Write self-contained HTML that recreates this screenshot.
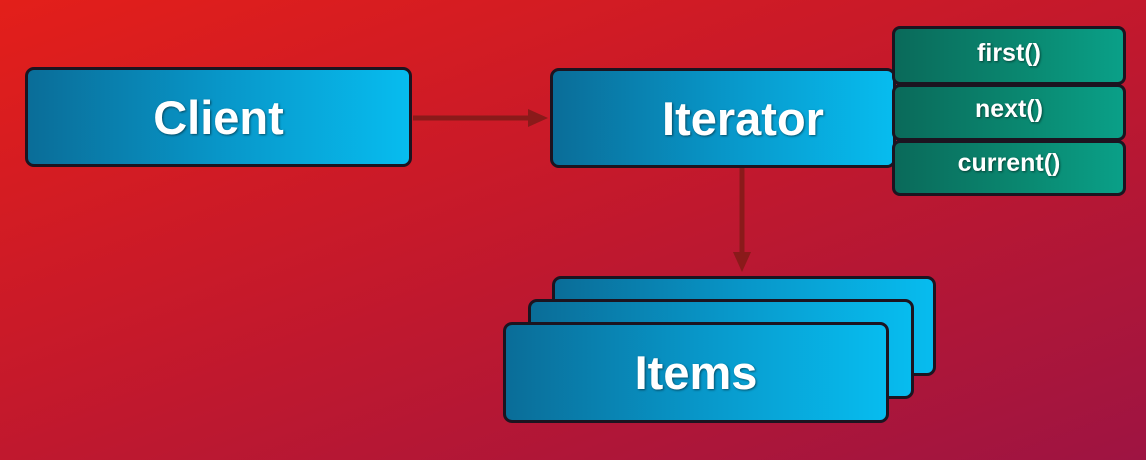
<!DOCTYPE html>
<html><head><style>
body{margin:0;width:1146px;height:460px;overflow:hidden;background:linear-gradient(160deg,#e31f1a 0%,#c5192b 45%,#9e1442 100%);font-family:"Liberation Sans",sans-serif;position:relative}
.b{position:absolute;box-sizing:border-box;border:3px solid #1c1420;border-radius:9px;background:linear-gradient(90deg,#0a6d98 0%,#0896c8 50%,#07bcef 100%);color:#fff;font-weight:bold;font-size:47px;display:flex;align-items:center;justify-content:center;text-shadow:1px 1px 2px rgba(0,0,0,.5)}
.g{position:absolute;box-sizing:border-box;border:3px solid #1c1420;border-radius:8px;background:linear-gradient(90deg,#0a6a5a 0%,#0a8a72 60%,#0aa088 100%);color:#fff;font-weight:bold;font-size:25px;display:flex;align-items:flex-start;justify-content:center;padding-top:10px;text-shadow:1px 1px 2px rgba(0,0,0,.5)}
</style></head><body>
<svg width="1146" height="460" style="position:absolute;left:0;top:0">
<line x1="413" y1="118" x2="535" y2="118" stroke="#8a1a1a" stroke-width="5"/>
<polygon points="548,118 528,109 528,127" fill="#8a1a1a"/>
<line x1="742" y1="168" x2="742" y2="258" stroke="#8a1a1a" stroke-width="5"/>
<polygon points="742,272 733,252 751,252" fill="#8a1a1a"/>
</svg>
<div class="b" style="left:25px;top:67px;width:387px;height:100px">Client</div>
<div class="b" style="left:550px;top:68px;width:346px;height:100px;padding-left:40px">Iterator</div>
<div class="g" style="left:892px;top:26px;width:234px;height:59px">first()</div>
<div class="g" style="left:892px;top:84px;width:234px;height:57px;padding-top:8px">next()</div>
<div class="g" style="left:892px;top:140px;width:234px;height:56px;padding-top:6px">current()</div>
<div class="b" style="left:552px;top:276px;width:384px;height:100px"></div>
<div class="b" style="left:528px;top:299px;width:386px;height:100px"></div>
<div class="b" style="left:503px;top:322px;width:386px;height:101px;padding-left:0px">Items</div>
</body></html>
